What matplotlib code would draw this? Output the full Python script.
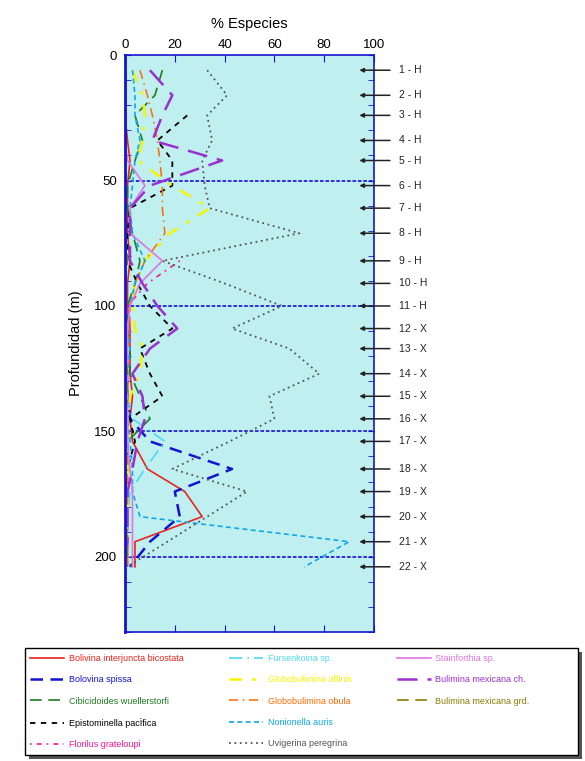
import numpy as np
import matplotlib
matplotlib.use('Agg')
import matplotlib.pyplot as plt
from matplotlib.lines import Line2D
from matplotlib.patches import Rectangle

plt.rcParams['font.family'] = ['Liberation Sans', 'DejaVu Sans']

# sample depths (m) and labels
depth = [6, 16, 24, 34, 42, 52, 61, 71, 82, 91, 100, 109, 117, 127, 136, 145, 154, 165, 174, 184, 194, 204]
sample_labels = ['1 - H', '2 - H', '3 - H', '4 - H', '5 - H', '6 - H', '7 - H', '8 - H', '9 - H', '10 - H',
                 '11 - H', '12 - X', '13 - X', '14 - X', '15 - X', '16 - X', '17 - X', '18 - X', '19 - X',
                 '20 - X', '21 - X', '22 - X']

nan = np.nan
# % of species per sample
bolivina_interjuncta = [0, 0, 0, 1, 2, 1, 1, 1, 2, 1, 1, 2, 2, 2, 3, 2, 3, 9, 24, 31, 4, 4]
bolovina_spissa = [0, 0, 0, 0, 0, 0, 0, 0, 0, 0, 0, 0, 0, 0, 1, 2, 10, 43, 20, 22, 10, 2]
cibicidoides = [15, 12, 4, 7, 4, 1, 1, 3, 6, 4, 1, 1, 2, 2, 6, 10, 1, 1, 0, 0, 0, 0]
epistominella = [nan, nan, 25, 13, 19, 19, 2, 1, 1, 5, 10, 19, 6, 10, 15, 2, 4, 1, 0, 0, 0, 1]
florilus = [nan, nan, nan, nan, nan, nan, nan, nan, 22, 9, 1, 1, 1, 1, 1, 1, 1, 1, 1, 1, 1, 1]
fursenkoina = [0, 0, 0, 0, 0, 0, 0, 0, 0, 0, 0, 0, 0, 0, 1, 3, 16, 8, 2, 1, 1, 1]
glob_affinis = [3, 7, 8, 7, 5, 19, 34, 18, 8, 4, 3, 4, 7, 6, 2, 1, 1, 1, 1, 1, 1, 1]
glob_obula = [6, 9, 11, 13, 14, 15, 15, 16, 8, 4, 2, 2, 1, 1, 1, 1, 1, 1, 1, 1, 1, 1]
nonionella = [3, 4, 4, 6, 4, 3, 2, 3, 8, 4, 2, 1, 2, 1, 1, 1, 2, 3, 3, 6, 90, 72]
uvigerina = [33, 41, 33, 35, 31, 32, 34, 70, 15, 40, 63, 43, 66, 78, 58, 60, 42, 19, 49, 33, 17, 1]
stainforthia = [0, 0, 0, 0, 1, 8, 2, 2, 15, 6, 2, 1, 1, 1, 1, 1, 1, 2, 3, 3, 3, 3]
bul_mex_ch = [10, 19, 15, 11, 39, 10, 2, 2, 2, 7, 13, 21, 10, 3, 7, 8, 5, 3, 1, 1, 1, 0]
bul_mex_grd = [0, 0, 0, 0, 0, 0, 0, 0, 1, 0, 0, 0, 0, 1, 1, 0, 0, 0, 0, 0, 1, 1]

series = [
    ('Bolivina interjuncta bicostata', bolivina_interjuncta, '#E8241C', '-', 1.2),
    ('Bolovina spissa', bolovina_spissa, '#1212D2', (0, (5, 3)), 1.8),
    ('Cibicidoides wuellerstorfi', cibicidoides, '#1E7B1E', (0, (7, 4)), 1.2),
    ('Epistominella pacÌfica', epistominella, '#000000', (0, (3, 3)), 1.3),
    ('Florilus grateloupi', florilus, '#FF1493', (0, (1, 3, 3, 3)), 1.2),
    ('Fursenkoina sp.', fursenkoina, '#4FD8F5', (0, (8, 3, 1, 3)), 1.2),
    ('Globobulimina affinis', glob_affinis, '#F5F500', (0, (5, 4, 1.5, 4)), 1.8),
    ('Globobulimina obula', glob_obula, '#FF6A00', (0, (6, 3, 1, 3)), 1.1),
    ('Nonionella auris', nonionella, '#10A8E8', (0, (3, 2)), 1.2),
    ('Uvigerina peregrina', uvigerina, '#555555', (0, (1, 2)), 1.3),
    ('Stainforthia sp.', stainforthia, '#DD77DD', '-', 1.2),
    ('Bulimina mexicana ch.', bul_mex_ch, '#9B30D0', (0, (8, 4)), 1.8),
    ('Bulimina mexicana grd.', bul_mex_grd, '#8B7B00', (0, (7, 4)), 1.2),
]

fig = plt.figure(figsize=(5.85, 7.61), dpi=100)
ax = fig.add_axes([0.2137, 0.1695, 0.4256, 0.758])
ax.set_facecolor('#BFEFEF')

for name, vals, color, ls, lw in series:
    ax.plot(vals, depth, color=color, linestyle=ls, linewidth=lw, label=name)

ax.set_xlim(0, 100)
ax.set_ylim(230, 0)
ax.set_xticks(range(0, 101, 20))
ax.set_yticks(range(0, 201, 50))
ax.set_yticks(range(0, 231, 10), minor=True)
ax.xaxis.tick_top()
ax.xaxis.set_label_position('top')
ax.tick_params(axis='x', which='both', direction='in', color='#1515D0', top=True, bottom=True,
               labelsize=9.5, length=5, pad=3)
ax.tick_params(axis='y', which='both', direction='in', color='#1515D0', left=True, right=True,
               labelsize=9.5, length=4, pad=6)
for sp in ax.spines.values():
    sp.set_color('#1515D0')
    sp.set_linewidth(1.2)
ax.spines['left'].set_linewidth(2)

for yv in [50, 100, 150, 200]:
    ax.axhline(yv, color='#2020E0', linestyle=(0, (2, 1)), linewidth=1.3, zorder=0.5)

ax.set_xlabel('% Especies', fontsize=10.5, labelpad=8)
ax.set_ylabel('Profundidad (m)', fontsize=10.5, labelpad=8)

# sample arrows on the right
for d, lab in zip(depth, sample_labels):
    ax.annotate('', xy=(93, d), xytext=(107.5, d),
                arrowprops=dict(arrowstyle='-|>', color='#222222', lw=1.1, mutation_scale=6),
                annotation_clip=False)
    ax.text(110, d, lab, fontsize=7.5, va='center', ha='left', color='#222222', clip_on=False)

# legend box with shadow
W, H = 585.0, 761.0
fig.add_artist(Rectangle(((25 + 4) / W, 1 - (755 + 4) / H), 553 / W, 107 / H,
                         transform=fig.transFigure, facecolor='#555555', edgecolor='none', zorder=1))
fig.add_artist(Rectangle((25 / W, 1 - 755 / H), 553 / W, 107 / H,
                         transform=fig.transFigure, facecolor='white', edgecolor='black',
                         linewidth=1.0, zorder=1.5))

# legend (two blank entries so the columns hold 5, 5 and 3 items)
handles = [Line2D([], [], color=c, linestyle=ls, linewidth=lw) for _, _, c, ls, lw in series]
names = [s[0] for s in series]
colors = [s[2] for s in series]
handles += [Line2D([], [], linestyle='none')] * 2
names += ['', '']
colors += ['none', 'none']
leg = fig.legend(handles, names, loc='upper left', bbox_to_anchor=(30 / W, 1 - 654 / H),
                 ncol=3, fontsize=6.5, frameon=False,
                 handlelength=3.8, handletextpad=0.5, borderaxespad=0, labelspacing=1.36,
                 borderpad=0, columnspacing=5.0)
leg.set_zorder(2)
for txt, c in zip(leg.get_texts(), colors):
    txt.set_color(c)

fig.savefig('out.png', dpi=100)
